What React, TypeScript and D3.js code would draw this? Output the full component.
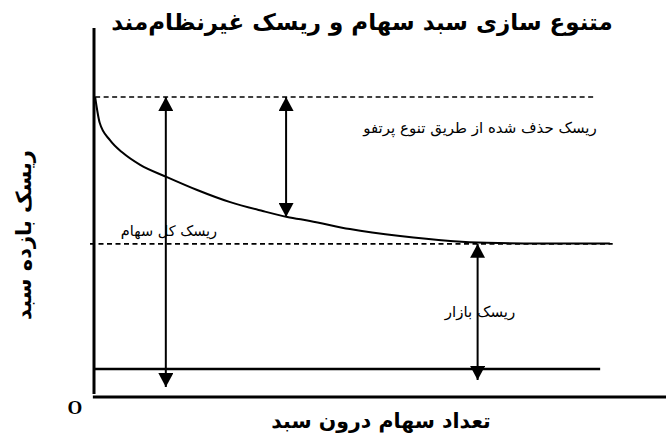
import React from 'react';
import * as d3 from 'd3';

const W = 666;
const H = 445;

// portfolio risk curve (number of stocks -> risk)
const stockCounts = [0.2, 1, 2.8, 5.1, 8.1, 12.8, 18.1, 23.9, 29.6, 33.9, 37.9, 44.9, 53.7, 62.5, 68.9, 78.2, 90.5];
const portfolioRisk = [81.3, 74.3, 69.6, 66.1, 62.9, 59.6, 56.1, 52.8, 50.4, 48.8, 47.7, 45.5, 43.6, 42.3, 41.8, 41.6, 41.6];

// reference levels
const totalRiskLevel = 81.3;
const marketRiskLevel = 41.5;
const baseLevel = 7.6;

// double headed arrows: [x, from, to]
const arrowX = [12.6, 33.7, 67.3];
const arrowFrom = [81.3, 81.3, 41.5];
const arrowTo = [2.7, 48.8, 4.6];

const title = 'متنوع سازی سبد سهام و ریسک غیرنظام‌مند';
const xLabel = 'تعداد سهام درون سبد';
const yLabel = 'ریسک بازده سبد';
const notes = ['ریسک حذف شده از طریق تنوع پرتفو', 'ریسک کل سهام', 'ریسک بازار'];

export default function App() {
  const x = d3.scaleLinear().domain([0, 100]).range([94, 664]);
  const y = d3.scaleLinear().domain([0, 100]).range([397, 28]);

  const pts: [number, number][] = stockCounts.map((s, i) => [s, portfolioRisk[i]]);
  const line = d3
    .line<[number, number]>()
    .x((d) => x(d[0]))
    .y((d) => y(d[1]))
    .curve(d3.curveMonotoneX);

  const font = "'DejaVu Sans', sans-serif";

  return (
    <svg
      width={W}
      height={H}
      viewBox={`0 0 ${W} ${H}`}
      style={{ position: 'absolute', left: 0, top: 0, background: '#fff' }}
    >
      <defs>
        <marker
          id="head"
          viewBox="0 0 14 15"
          refX={14}
          refY={7.5}
          markerWidth={14}
          markerHeight={15}
          markerUnits="userSpaceOnUse"
          orient="auto-start-reverse"
        >
          <path d="M0,0 L14,7.5 L0,15 Z" fill="#000" />
        </marker>
      </defs>

      {/* title */}
      <text x={362} y={30} textAnchor="middle" fontFamily={font} fontWeight="bold" fontSize={23}>
        {title}
      </text>

      {/* dashed levels */}
      <line
        x1={x(0.2)} x2={x(87.9)} y1={y(totalRiskLevel)} y2={y(totalRiskLevel)}
        stroke="#000" strokeWidth={1.6} strokeDasharray="5,3.5"
      />
      <line
        x1={x(-0.7)} x2={x(91)} y1={y(marketRiskLevel)} y2={y(marketRiskLevel)}
        stroke="#000" strokeWidth={1.6} strokeDasharray="5,3.5"
      />

      {/* market risk base line */}
      <line x1={x(0)} x2={x(88.8)} y1={y(baseLevel)} y2={y(baseLevel)} stroke="#000" strokeWidth={2.5} />

      {/* risk curve */}
      <path d={line(pts) ?? ''} fill="none" stroke="#000" strokeWidth={2} />

      {/* arrows */}
      {arrowX.map((ax, i) => (
        <line
          key={i}
          x1={x(ax)} x2={x(ax)} y1={y(arrowFrom[i])} y2={y(arrowTo[i])}
          stroke="#000" strokeWidth={2}
          markerStart="url(#head)" markerEnd="url(#head)"
        />
      ))}

      {/* axes */}
      <line x1={x(0)} x2={x(0)} y1={28} y2={394} stroke="#000" strokeWidth={3} />
      <line x1={x(-0.2)} x2={W} y1={y(0)} y2={y(0)} stroke="#000" strokeWidth={3} />
      <text x={75} y={414} textAnchor="middle" fontFamily="'Liberation Serif', serif" fontWeight="bold" fontSize={19}>
        O
      </text>

      {/* annotations */}
      <text x={480} y={133} textAnchor="middle" fontFamily={font} fontSize={15}>
        {notes[0]}
      </text>
      <text x={169} y={236} textAnchor="middle" fontFamily={font} fontSize={14.5}>
        {notes[1]}
      </text>
      <text x={480} y={317} textAnchor="middle" fontFamily={font} fontSize={15}>
        {notes[2]}
      </text>

      {/* axis labels */}
      <text x={381} y={428} textAnchor="middle" fontFamily={font} fontWeight="bold" fontSize={20.5}>
        {xLabel}
      </text>
      <text
        transform="translate(31,235) rotate(-90)"
        textAnchor="middle" fontFamily={font} fontWeight="bold" fontSize={21}
      >
        {yLabel}
      </text>
    </svg>
  );
}
